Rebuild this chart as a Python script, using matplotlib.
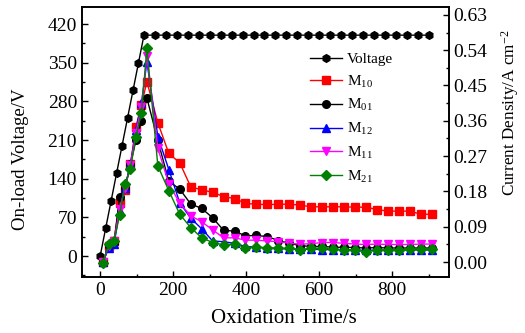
import matplotlib
matplotlib.use("Agg")
import matplotlib.pyplot as plt
from matplotlib.ticker import MultipleLocator

plt.rcParams['font.family'] = ['Liberation Serif', 'DejaVu Serif']
plt.rcParams['mathtext.fontset'] = 'custom'
plt.rcParams['mathtext.rm'] = 'Liberation Serif'
plt.rcParams['mathtext.it'] = 'Liberation Serif:italic'

# voltage (left axis)
t_volt = [0, 15, 30, 45, 60, 75, 90, 105, 120, 150, 180, 210, 240, 270, 300, 330, 360,
          390, 420, 450, 480, 510, 540, 570, 600, 630, 660, 690, 720, 750, 780, 810,
          840, 870, 900]
voltage = [0, 50, 100, 150, 200, 250, 300, 350, 400, 400, 400, 400, 400, 400, 400, 400,
           400, 400, 400, 400, 400, 400, 400, 400, 400, 400, 400, 400, 400, 400, 400,
           400, 400, 400, 400]

# current density (right axis)
t_cur = [8, 23, 38, 53, 68, 83, 98, 113, 128, 158, 188, 218, 248, 278, 308, 338, 368,
         398, 428, 458, 488, 518, 548, 578, 608, 638, 668, 698, 728, 758, 788, 818,
         848, 878, 908]
m10 = [0.00, 0.04, 0.055, 0.15, 0.185, 0.25, 0.345, 0.40, 0.46,
       0.355, 0.277, 0.253, 0.192, 0.184, 0.178, 0.167, 0.162, 0.150, 0.147, 0.147,
       0.147, 0.148, 0.145, 0.141, 0.141, 0.141, 0.141, 0.140, 0.140, 0.134, 0.130,
       0.130, 0.130, 0.122, 0.122]
m01 = [0.00, 0.04, 0.05, 0.165, 0.19, 0.25, 0.31, 0.36, 0.418,
       0.31, 0.206, 0.186, 0.148, 0.137, 0.113, 0.081, 0.079, 0.067, 0.068, 0.065,
       0.055, 0.048, 0.042, 0.040, 0.040, 0.038, 0.038, 0.037, 0.036, 0.037, 0.036,
       0.036, 0.036, 0.036, 0.036]
m12 = [0.00, 0.035, 0.045, 0.13, 0.19, 0.25, 0.337, 0.405, 0.51,
       0.32, 0.236, 0.151, 0.112, 0.085, 0.054, 0.052, 0.048, 0.040, 0.038, 0.036,
       0.035, 0.034, 0.033, 0.033, 0.032, 0.032, 0.032, 0.031, 0.030, 0.031, 0.031,
       0.031, 0.031, 0.031, 0.031]
m11 = [0.00, 0.04, 0.055, 0.135, 0.19, 0.247, 0.33, 0.396, 0.524,
       0.29, 0.20, 0.150, 0.118, 0.103, 0.082, 0.062, 0.062, 0.056, 0.056, 0.054,
       0.052, 0.048, 0.046, 0.047, 0.050, 0.050, 0.048, 0.046, 0.045, 0.046, 0.045,
       0.045, 0.045, 0.046, 0.046]
m21 = [-0.003, 0.045, 0.054, 0.119, 0.198, 0.238, 0.32, 0.379, 0.545,
       0.245, 0.182, 0.122, 0.088, 0.062, 0.05, 0.044, 0.046, 0.037, 0.038, 0.037,
       0.035, 0.035, 0.031, 0.035, 0.035, 0.033, 0.031, 0.031, 0.026, 0.031, 0.031,
       0.031, 0.033, 0.033, 0.033]

fig = plt.figure(figsize=(5.25, 3.33), dpi=100)
ax = fig.add_axes([0.156, 0.168, 0.699, 0.811])
ax2 = ax.twinx()

ms = 5.5
lv, = ax.plot(t_volt, voltage, color='black', marker='h', ms=ms, lw=1, label='Voltage')

series = [
    (m10, 's', '#FF0000', r'M$_{10}$'),
    (m01, 'o', 'black', r'M$_{01}$'),
    (m12, '^', '#0000FF', r'M$_{12}$'),
    (m11, 'v', '#FF00FF', r'M$_{11}$'),
    (m21, 'D', '#008000', r'M$_{21}$'),
]
handles = [lv]
for vals, mk, col, lab in series:
    h, = ax2.plot(t_cur, vals, color=col, marker=mk, ms=ms if mk != 'D' else 4.8,
                  lw=1, label=lab)
    handles.append(h)

ax.set_xlim(-50, 955)
ax.set_ylim(-38, 451)
ax2.set_ylim(-0.038, 0.65)

ax.xaxis.set_major_locator(MultipleLocator(200))
ax.xaxis.set_minor_locator(MultipleLocator(100))
ax.yaxis.set_major_locator(MultipleLocator(70))
ax.yaxis.set_minor_locator(MultipleLocator(35))
ax2.yaxis.set_minor_locator(MultipleLocator(0.045))
ax2.set_yticks([0.0, 0.09, 0.18, 0.27, 0.36, 0.45, 0.54, 0.63])
ax2.set_yticklabels(['0.00', '0.09', '0.18', '0.27', '0.36', '0.45', '0.54', '0.63'])

fs = 14
for a in (ax, ax2):
    a.tick_params(which='both', direction='in', labelsize=fs, width=1)
    a.tick_params(which='major', length=4)
    a.tick_params(which='minor', length=2)
    for s in a.spines.values():
        s.set_linewidth(1.2)

ax.set_xlabel('Oxidation Time/s', fontsize=15)
ax.xaxis.set_label_coords(0.55, -0.12)
ax.set_ylabel('On-load Voltage/V', fontsize=13.5)
ax.yaxis.set_label_coords(-0.143, 0.436)
ax2.set_ylabel(r'Current Density/A cm$^{-2}$', fontsize=12.3)
ax2.yaxis.set_label_coords(1.137, 0.607)

ax.legend(handles=handles, loc='upper left', bbox_to_anchor=(0.605, 0.855), frameon=False,
          fontsize=11, handlelength=2.1, labelspacing=0.5, handletextpad=0.3,
          borderaxespad=0)

fig.savefig('out.png', dpi=100)
